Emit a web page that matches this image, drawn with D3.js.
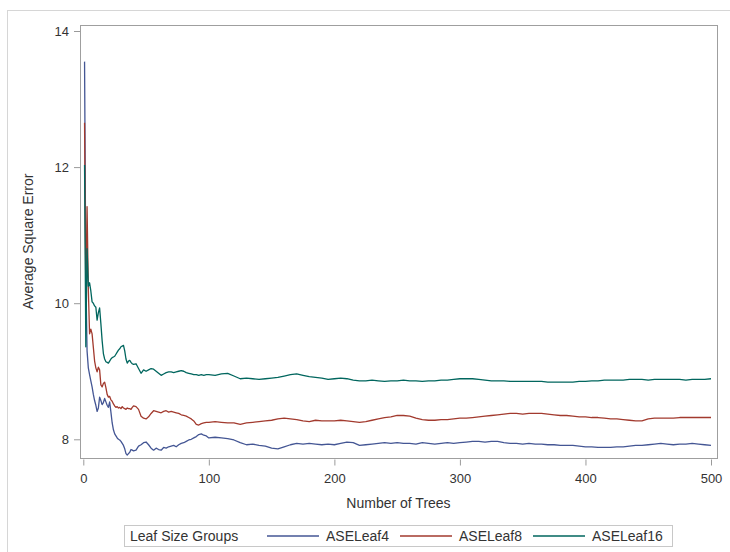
<!DOCTYPE html>
<html>
<head>
<meta charset="utf-8">
<script src="https://cdn.jsdelivr.net/npm/d3@7"></script>
<style>
  html, body { margin: 0; padding: 0; background: #fff; }
  svg { display: block; font-family: "Liberation Sans", Arial, sans-serif; }
  .axis text { font-size: 13px; fill: #333; }
  .axis line { stroke: #9a9a9a; }
</style>
</head>
<body>
<div id="chart"></div>
<script>
const trees = [
  1, 2, 3, 4, 5, 6, 7, 8, 9, 10,
  11, 12, 13, 14, 15, 16, 17, 18, 19, 20,
  21, 22, 23, 24, 25, 26, 27, 28, 29, 30,
  31, 32, 33, 34, 35, 36, 37, 38, 39, 40,
  42, 44, 46, 48, 50, 52, 54, 56, 58, 60,
  62, 64, 66, 68, 70, 72, 74, 76, 78, 80,
  82, 84, 86, 88, 90, 92, 94, 96, 98, 100,
  105, 110, 115, 120, 125, 130, 135, 140, 145, 150,
  155, 160, 165, 170, 175, 180, 185, 190, 195, 200,
  205, 210, 215, 220, 225, 230, 235, 240, 245, 250,
  255, 260, 265, 270, 275, 280, 285, 290, 295, 300,
  305, 310, 315, 320, 325, 330, 335, 340, 345, 350,
  355, 360, 365, 370, 375, 380, 385, 390, 395, 400,
  405, 410, 415, 420, 425, 430, 435, 440, 445, 450,
  455, 460, 465, 470, 475, 480, 485, 490, 495, 500
];

const aseLeaf4 = [
  13.55, 10.40, 9.30, 9.05, 8.95, 8.86, 8.77, 8.66, 8.57, 8.50,
  8.41, 8.46, 8.62, 8.57, 8.51, 8.54, 8.60, 8.55, 8.50, 8.47,
  8.55, 8.40, 8.24, 8.14, 8.08, 8.05, 8.02, 8.00, 7.99, 7.97,
  7.94, 7.91, 7.86, 7.79, 7.77, 7.79, 7.81, 7.85, 7.84, 7.83,
  7.84, 7.90, 7.92, 7.95, 7.96, 7.92, 7.87, 7.84, 7.87, 7.85,
  7.84, 7.88, 7.87, 7.89, 7.90, 7.91, 7.89, 7.92, 7.94, 7.95,
  7.97, 7.99, 8.00, 8.02, 8.04, 8.07, 8.08, 8.06, 8.05, 8.02,
  8.03, 8.02, 8.01, 7.99, 7.95, 7.92, 7.93, 7.91, 7.90, 7.87,
  7.86, 7.89, 7.92, 7.94, 7.93, 7.94, 7.93, 7.92, 7.93, 7.92,
  7.94, 7.96, 7.95, 7.91, 7.92, 7.93, 7.94, 7.95, 7.94, 7.95,
  7.94, 7.94, 7.93, 7.95, 7.94, 7.93, 7.94, 7.95, 7.94, 7.95,
  7.96, 7.97, 7.97, 7.96, 7.97, 7.97, 7.95, 7.94, 7.94, 7.93,
  7.94, 7.93, 7.93, 7.92, 7.92, 7.91, 7.91, 7.91, 7.90, 7.89,
  7.89, 7.88, 7.88, 7.88, 7.89, 7.89, 7.90, 7.91, 7.91, 7.92,
  7.93, 7.94, 7.93, 7.92, 7.93, 7.93, 7.94, 7.93, 7.92, 7.91
];

const aseLeaf8 = [
  12.65, 10.10, 11.42, 10.20, 9.55, 9.62, 9.55, 9.35, 9.15, 9.05,
  8.99, 9.06, 9.02, 8.80, 8.77, 8.82, 8.84, 8.76, 8.66, 8.62,
  8.63, 8.58, 8.56, 8.52, 8.49, 8.47, 8.48, 8.46, 8.47, 8.45,
  8.48, 8.46, 8.45, 8.44, 8.46, 8.45, 8.45, 8.44, 8.47, 8.49,
  8.48, 8.44, 8.34, 8.31, 8.30, 8.33, 8.38, 8.42, 8.41, 8.40,
  8.39, 8.41, 8.42, 8.40, 8.41, 8.40, 8.39, 8.38, 8.36, 8.35,
  8.34, 8.32, 8.30, 8.27, 8.22, 8.21, 8.23, 8.24, 8.25, 8.25,
  8.26, 8.25, 8.24, 8.24, 8.22, 8.24, 8.25, 8.26, 8.27, 8.28,
  8.30, 8.31, 8.30, 8.29, 8.27, 8.26, 8.28, 8.27, 8.27, 8.27,
  8.28, 8.27, 8.26, 8.25, 8.26, 8.28, 8.30, 8.32, 8.33, 8.35,
  8.35, 8.34, 8.31, 8.29, 8.28, 8.28, 8.29, 8.29, 8.30, 8.31,
  8.31, 8.32, 8.33, 8.34, 8.35, 8.36, 8.37, 8.38, 8.38, 8.37,
  8.38, 8.38, 8.38, 8.37, 8.36, 8.35, 8.35, 8.34, 8.33, 8.33,
  8.32, 8.32, 8.31, 8.30, 8.30, 8.29, 8.28, 8.27, 8.27, 8.30,
  8.31, 8.31, 8.31, 8.31, 8.32, 8.32, 8.32, 8.32, 8.32, 8.32
];

const aseLeaf16 = [
  12.03, 9.36, 10.80, 10.25, 10.30, 10.18, 10.02, 10.00, 9.96, 9.94,
  9.75, 9.86, 9.93, 9.70, 9.45, 9.26, 9.18, 9.14, 9.13, 9.12,
  9.15, 9.18, 9.20, 9.21, 9.22, 9.25, 9.28, 9.31, 9.33, 9.36,
  9.37, 9.38, 9.30, 9.18, 9.12, 9.15, 9.16, 9.13, 9.11, 9.10,
  9.11, 9.04, 8.97, 9.02, 9.00, 9.02, 9.04, 9.03, 9.00, 8.97,
  8.94, 8.96, 8.98, 8.99, 8.99, 8.98, 8.99, 9.00, 9.01, 9.00,
  8.98, 8.97, 8.96, 8.95, 8.95, 8.94, 8.95, 8.94, 8.95, 8.95,
  8.94, 8.96, 8.97, 8.93, 8.89, 8.90, 8.89, 8.88, 8.89, 8.90,
  8.91, 8.93, 8.95, 8.96, 8.94, 8.92, 8.91, 8.90, 8.88, 8.89,
  8.90, 8.89, 8.87, 8.86, 8.86, 8.87, 8.86, 8.85, 8.86, 8.86,
  8.87, 8.86, 8.86, 8.85, 8.86, 8.86, 8.87, 8.87, 8.88, 8.89,
  8.89, 8.89, 8.88, 8.87, 8.86, 8.86, 8.86, 8.85, 8.85, 8.85,
  8.85, 8.85, 8.85, 8.84, 8.84, 8.84, 8.84, 8.84, 8.85, 8.85,
  8.86, 8.86, 8.87, 8.87, 8.87, 8.87, 8.88, 8.88, 8.88, 8.87,
  8.88, 8.88, 8.88, 8.88, 8.88, 8.87, 8.88, 8.88, 8.88, 8.89
];

const seriesNames = ["ASELeaf4", "ASELeaf8", "ASELeaf16"];
const seriesColors = ["#445694", "#a23a2e", "#01665e"];
const xTicks = [0, 100, 200, 300, 400, 500];
const yTicks = [8, 10, 12, 14];

const W = 730, H = 552;
const frame = { left: 80, top: 25, right: 717, bottom: 458 };

const svg = d3.select("#chart").append("svg").attr("width", W).attr("height", H);

// light outer border of the graph
svg.append("rect").attr("x", 7.5).attr("y", 10.5).attr("width", W).attr("height", H)
  .attr("fill", "none").attr("stroke", "#d6d6d6");

const xScale = d3.scaleLinear().domain([0, 500]).range([83.3, 711]);
const yScale = d3.scaleLinear().domain([8, 14]).range([439.3, 31]);

// axes
svg.append("g").attr("class", "axis x").attr("transform", `translate(0,${frame.bottom + 1.5})`)
  .call(d3.axisBottom(xScale).tickValues(xTicks).tickSize(6).tickPadding(8).tickFormat(d3.format("d")))
  .call((g) => g.select(".domain").remove());

svg.append("g").attr("class", "axis y").attr("transform", `translate(${frame.left},0)`)
  .call(d3.axisLeft(yScale).tickValues(yTicks).tickSize(6).tickPadding(5).tickFormat(d3.format("d")))
  .call((g) => g.select(".domain").remove());

// plot frame
svg.append("rect")
  .attr("x", frame.left + 0.5).attr("y", frame.top + 0.5)
  .attr("width", frame.right - frame.left).attr("height", frame.bottom - frame.top)
  .attr("fill", "none").attr("stroke", "#9f9f9f");

// series
const series = [aseLeaf4, aseLeaf8, aseLeaf16].map((vals, i) => ({
  name: seriesNames[i], color: seriesColors[i], values: vals.map((v, j) => [trees[j], v])
}));

const line = d3.line().x((d) => xScale(d[0])).y((d) => yScale(d[1]));

svg.append("g").selectAll("path").data(series).join("path")
  .attr("d", (d) => line(d.values))
  .attr("fill", "none").attr("stroke", (d) => d.color)
  .attr("stroke-width", 1.3).attr("stroke-linejoin", "round");

// axis titles
svg.append("text").attr("x", (frame.left + frame.right) / 2).attr("y", 508)
  .attr("text-anchor", "middle").attr("font-size", 14).attr("fill", "#333")
  .text("Number of Trees");

svg.append("text")
  .attr("transform", `translate(33,${(frame.top + frame.bottom) / 2}) rotate(-90)`)
  .attr("text-anchor", "middle").attr("font-size", 14).attr("fill", "#333")
  .text("Average Square Error");

// legend
const lg = svg.append("g");
lg.append("rect").attr("x", 124.5).attr("y", 525.5).attr("width", 548).attr("height", 21)
  .attr("fill", "none").attr("stroke", "#c8c8c8");
lg.append("text").attr("x", 130).attr("y", 541).attr("font-size", 14).attr("fill", "#333")
  .text("Leaf Size Groups");

const legendX = [267, 400, 533];
series.forEach((s, i) => {
  lg.append("line").attr("x1", legendX[i]).attr("x2", legendX[i] + 52)
    .attr("y1", 536).attr("y2", 536).attr("stroke", s.color).attr("stroke-width", 1.3);
  lg.append("text").attr("x", legendX[i] + 59).attr("y", 541).attr("font-size", 14).attr("fill", "#333")
    .text(s.name);
});
</script>
</body>
</html>
